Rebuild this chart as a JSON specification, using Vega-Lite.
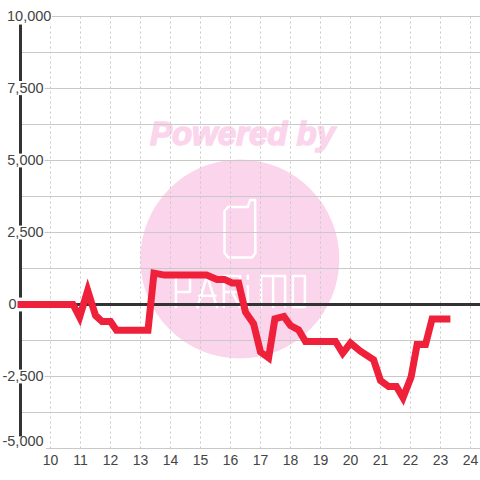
{
"$schema":"https://vega.github.io/schema/vega-lite/v6.json",
"width":460,"height":432,
"autosize":{"type":"none"},
"padding":{"left":20.5,"top":16.5,"right":0,"bottom":31},
"background":"white",
"config":{"view":{"stroke":null},"text":{"font":"Liberation Sans"}},
"layer":[
{"data":{"values":[{"cx":16.31,"cy":1580}]},
 "mark":{"type":"point","filled":true,"fill":"#fbd5ec","opacity":1,"size":39600,"shape":"circle"},
 "encoding":{"x":{"field":"cx","type":"quantitative","scale":{"domain":[9,24.3333],"nice":false,"zero":false,"padding":0},"axis":null},
  "y":{"field":"cy","type":"quantitative","scale":{"domain":[-5000,10000],"nice":false,"zero":false,"padding":0},"axis":null}}},
{"data":{"values":[{"t":"Powered by","x":16.4,"y":5890}]},
 "mark":{"type":"text","font":"Liberation Sans","fontWeight":"bold","fontStyle":"italic","fontSize":33,"fill":"#fbd5ec","stroke":"#fbd5ec","strokeWidth":1.5,"align":"center","baseline":"middle"},
 "encoding":{"text":{"field":"t"},"x":{"field":"x","type":"quantitative","axis":null},"y":{"field":"y","type":"quantitative","axis":null}}},
{"data":{"values":[
{"g":"phone","o":1,"h":15.92,"p":3385},{"g":"phone","o":2,"h":16.58,"p":3385},{"g":"phone","o":3,"h":16.65,"p":3628},{"g":"phone","o":4,"h":16.82,"p":3628},{"g":"phone","o":5,"h":16.83,"p":1788},{"g":"phone","o":6,"h":16.72,"p":1632},{"g":"phone","o":7,"h":15.92,"p":1632},{"g":"phone","o":8,"h":15.8,"p":1788},{"g":"phone","o":9,"h":15.8,"p":3247},{"g":"phone","o":10,"h":15.92,"p":3385},
{"g":"P","o":1,"h":14.18,"p":-87},{"g":"P","o":2,"h":14.18,"p":990},{"g":"P","o":3,"h":14.65,"p":990},{"g":"P","o":4,"h":14.65,"p":434},{"g":"P","o":5,"h":14.18,"p":434},
{"g":"A1","o":1,"h":14.9,"p":-87},{"g":"A1","o":2,"h":15.22,"p":990},{"g":"A1","o":3,"h":15.55,"p":-87},
{"g":"A2","o":1,"h":14.95,"p":300},{"g":"A2","o":2,"h":15.5,"p":300},
{"g":"R1","o":1,"h":15.78,"p":-87},{"g":"R1","o":2,"h":15.78,"p":990},{"g":"R1","o":3,"h":16.32,"p":990},{"g":"R1","o":4,"h":16.32,"p":434},{"g":"R1","o":5,"h":15.78,"p":434},
{"g":"R2","o":1,"h":16.05,"p":434},{"g":"R2","o":2,"h":16.32,"p":-87},
{"g":"i1","o":1,"h":16.58,"p":-87},{"g":"i1","o":2,"h":16.58,"p":642},
{"g":"i2","o":1,"h":16.58,"p":1000},{"g":"i2","o":2,"h":16.58,"p":890},
{"g":"M1","o":1,"h":17.02,"p":-87},{"g":"M1","o":2,"h":17.02,"p":990},{"g":"M1","o":3,"h":17.82,"p":990},{"g":"M1","o":4,"h":17.82,"p":-87},
{"g":"M2","o":1,"h":17.42,"p":990},{"g":"M2","o":2,"h":17.42,"p":-87},
{"g":"O","o":1,"h":18.08,"p":-87},{"g":"O","o":2,"h":18.08,"p":990},{"g":"O","o":3,"h":18.48,"p":990},{"g":"O","o":4,"h":18.48,"p":-87},{"g":"O","o":5,"h":18.08,"p":-87}]},
 "mark":{"type":"line","stroke":"white","strokeWidth":2.5,"strokeJoin":"round","strokeCap":"round"},
 "encoding":{"x":{"field":"h","type":"quantitative","axis":null},"y":{"field":"p","type":"quantitative","axis":null},"detail":{"field":"g"},"order":{"field":"o","type":"quantitative"}}},
{"data":{"values":[{"v":-5000},{"v":-3750},{"v":-2500},{"v":-1250},{"v":0},{"v":1250},{"v":2500},{"v":3750},{"v":5000},{"v":6250},{"v":7500},{"v":8750},{"v":10000}]},
 "mark":{"type":"rule","stroke":"#c9c9c9","strokeWidth":1},
 "encoding":{"y":{"field":"v","type":"quantitative","axis":null}}},
{"data":{"values":[{"v":10},{"v":11},{"v":12},{"v":13},{"v":14},{"v":15},{"v":16},{"v":17},{"v":18},{"v":19},{"v":20},{"v":21},{"v":22},{"v":23},{"v":24}]},
 "mark":{"type":"rule","stroke":"#c9c9c9","strokeWidth":1,"strokeDash":[2,3]},
 "encoding":{"x":{"field":"v","type":"quantitative","axis":null}}},
{"data":{"values":[{"t":-4757,"u":-5243,"a":8.8,"b":9.85},{"t":-2257,"u":-2743,"a":8.8,"b":9.8},{"t":243,"u":-243,"a":8.8,"b":9.8},{"t":2743,"u":2257,"a":8.8,"b":9.8},{"t":5243,"u":4757,"a":8.8,"b":9.8},{"t":7743,"u":7257,"a":8.8,"b":9.8},{"t":10243,"u":9757,"a":8.8,"b":10.05}]},
 "mark":{"type":"rect","fill":"white"},
 "encoding":{"y":{"field":"t","type":"quantitative","axis":null},"y2":{"field":"u"},"x":{"field":"a","type":"quantitative","axis":null},"x2":{"field":"b"}}},
{"data":{"values":[{"x":9,"a":9720,"b":7760},{"x":9,"a":7270,"b":5240},{"x":9,"a":4760,"b":2740},{"x":9,"a":2260,"b":240},{"x":9,"a":-240,"b":-2260},{"x":9,"a":-2740,"b":-4580}]},
 "mark":{"type":"rule","stroke":"#333333","strokeWidth":3},
 "encoding":{"x":{"field":"x","type":"quantitative","axis":null},"y":{"field":"a","type":"quantitative","axis":null},"y2":{"field":"b"}}},
{"data":{"values":[{"v":0}]},
 "mark":{"type":"rule","stroke":"#333333","strokeWidth":3},
 "encoding":{"y":{"field":"v","type":"quantitative","axis":null}}},
{"data":{"values":[
{"h":8.9,"p":0},{"h":10.75,"p":0},{"h":10.97,"p":-440},{"h":11.24,"p":486},{"h":11.5,"p":-380},{"h":11.72,"p":-590},{"h":12,"p":-590},{"h":12.2,"p":-890},{"h":13.25,"p":-890},{"h":13.45,"p":1090},{"h":13.8,"p":1020},{"h":15.2,"p":1020},{"h":15.55,"p":870},{"h":15.8,"p":870},{"h":16.05,"p":750},{"h":16.27,"p":750},{"h":16.5,"p":-265},{"h":16.77,"p":-670},{"h":17,"p":-1650},{"h":17.27,"p":-1850},{"h":17.48,"p":-500},{"h":17.78,"p":-415},{"h":18,"p":-730},{"h":18.27,"p":-880},{"h":18.5,"p":-1285},{"h":19.5,"p":-1285},{"h":19.74,"p":-1690},{"h":20,"p":-1340},{"h":20.33,"p":-1620},{"h":20.77,"p":-1920},{"h":21,"p":-2640},{"h":21.27,"p":-2850},{"h":21.53,"p":-2850},{"h":21.75,"p":-3240},{"h":22.02,"p":-2520},{"h":22.22,"p":-1390},{"h":22.5,"p":-1390},{"h":22.72,"p":-500},{"h":23.33,"p":-500}]},
 "mark":{"type":"line","stroke":"#ef2039","strokeWidth":7,"strokeJoin":"miter"},
 "encoding":{"x":{"field":"h","type":"quantitative","axis":null},"y":{"field":"p","type":"quantitative","axis":null}}},
{"data":{"values":[{"l":"-2,500","v":-2500,"x":9.77},{"l":"2,500","v":2500,"x":9.77},{"l":"5,000","v":5000,"x":9.77},{"l":"7,500","v":7500,"x":9.77},{"l":"10,000","v":10000,"x":10.03},{"l":"0","v":0,"x":8.87}]},
 "mark":{"type":"text","font":"Liberation Sans","fontSize":14.5,"fill":"#444444","align":"right","baseline":"middle"},
 "encoding":{"text":{"field":"l"},"x":{"field":"x","type":"quantitative","axis":null},"y":{"field":"v","type":"quantitative","axis":null}}},
{"data":{"values":[{"l":"-5,000","v":-5000,"x":9.77}]},
 "mark":{"type":"text","font":"Liberation Sans","fontSize":14.5,"fill":"#444444","align":"right","baseline":"middle","dy":-7},
 "encoding":{"text":{"field":"l"},"x":{"field":"x","type":"quantitative","axis":null},"y":{"field":"v","type":"quantitative","axis":null}}},
{"data":{"values":[{"l":"10","v":10,"y":-5000},{"l":"11","v":11,"y":-5000},{"l":"12","v":12,"y":-5000},{"l":"13","v":13,"y":-5000},{"l":"14","v":14,"y":-5000},{"l":"15","v":15,"y":-5000},{"l":"16","v":16,"y":-5000},{"l":"17","v":17,"y":-5000},{"l":"18","v":18,"y":-5000},{"l":"19","v":19,"y":-5000},{"l":"20","v":20,"y":-5000},{"l":"21","v":21,"y":-5000},{"l":"22","v":22,"y":-5000},{"l":"23","v":23,"y":-5000},{"l":"24","v":24,"y":-5000}]},
 "mark":{"type":"text","font":"Liberation Sans","fontSize":14,"fill":"#444444","align":"center","baseline":"middle","dy":12.5},
 "encoding":{"text":{"field":"l"},"x":{"field":"v","type":"quantitative","axis":null},"y":{"field":"y","type":"quantitative","axis":null}}}
]}
